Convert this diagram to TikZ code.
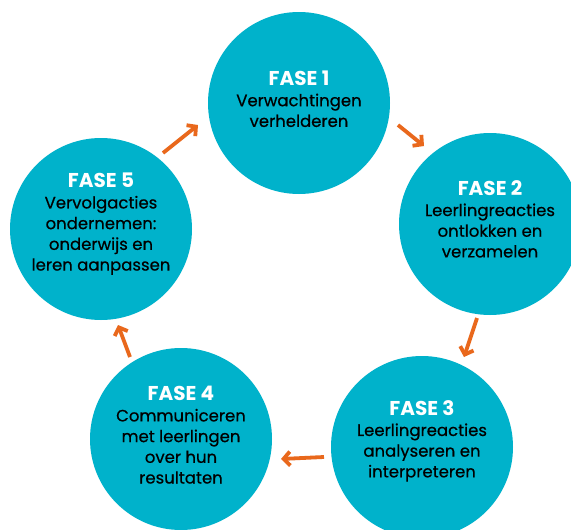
\documentclass[tikz,border=0pt]{standalone}
\usepackage{fontspec}
\setmainfont{Poppins}
\newfontfamily\bodyfont{Poppins}[FakeBold=0.5]
\usetikzlibrary{arrows.meta}
\definecolor{fase}{RGB}{0,178,203}
\definecolor{pijl}{RGB}{233,104,28}
\newcommand{\fasekop}[1]{\textcolor{white}{\normalfont\fontsize{20}{21}\selectfont\bfseries #1}}
\begin{document}
\begin{tikzpicture}[x=1pt,y=-1pt,
  fasecircle/.style={circle,fill=fase,minimum size=182pt,inner sep=0pt},
  fasetext/.style={align=center,font=\bodyfont\fontsize{16.5}{20.7}\selectfont,text=black},
  pijlstyle/.style={draw=pijl,line width=3.8pt,-{Straight Barb[length=6.5pt,width=14pt]}}]
\useasboundingbox (0,0) rectangle (571,530);
\clip (0,0) rectangle (571,530);
\fill[white] (0,0) rectangle (571,530);
% circles
\node[fasecircle] (c1) at (299,103) {};
\node[fasecircle] (c2) at (490,224) {};
\node[fasecircle] (c3) at (422,447) {};
\node[fasecircle] (c4) at (181,439) {};
\node[fasecircle] (c5) at (101,229) {};
% texts
\node[fasetext] (t1) at ([yshift=4pt]c1) {\fasekop{FASE 1}\\Verwachtingen\\verhelderen};
\node[fasetext] (t2) at ([yshift=5pt]c2) {\fasekop{FASE 2}\\Leerlingreacties\\ontlokken en\\verzamelen};
\node[fasetext] (t3) at ([yshift=6pt]c3) {\fasekop{FASE 3}\\Leerlingreacties\\analyseren en\\interpreteren};
\node[fasetext] (t4) at ([yshift=4pt]c4) {\fasekop{FASE 4}\\Communiceren\\met leerlingen\\over hun\\resultaten};
\node[fasetext] (t5) at ([yshift=5pt]c5) {\fasekop{FASE 5}\\Vervolgacties\\ondernemen:\\onderwijs en\\leren aanpassen};
% arrow end points
\coordinate (p51) at (163,153);
\coordinate (q51) at (198,125);
\coordinate (p12) at (398,125);
\coordinate (q12) at (424,146);
\coordinate (p23) at (477,318);
\coordinate (q23) at (464,357);
\coordinate (p34) at (324,457);
\coordinate (q34) at (281,459);
\coordinate (p45) at (130,357);
\coordinate (q45) at (118,325);
\draw[pijlstyle] (p51) -- (q51);
\draw[pijlstyle] (p12) -- (q12);
\draw[pijlstyle] (p23) -- (q23);
\draw[pijlstyle] (p34) -- (q34);
\draw[pijlstyle] (p45) -- (q45);
\end{tikzpicture}
\end{document}
